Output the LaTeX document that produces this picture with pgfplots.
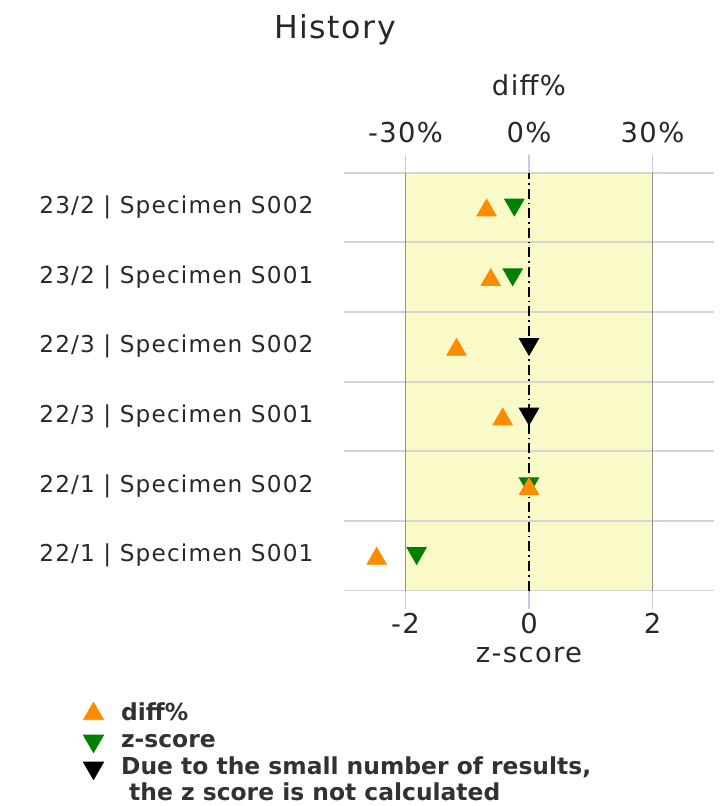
\documentclass[border=0pt]{standalone}
\usepackage{fontspec}
\setmainfont{DejaVu Sans}[LetterSpace=5]
\newfontfamily\legfont{DejaVu Sans}
\usepackage{pgfplots}
\pgfplotsset{compat=1.18}
\definecolor{myorange}{RGB}{255,140,0}
\definecolor{mygreen}{RGB}{0,128,0}
\definecolor{band}{RGB}{250,250,200}
\definecolor{bandedge}{RGB}{145,145,145}
\definecolor{gridc}{RGB}{212,212,212}
\definecolor{tickc}{RGB}{190,205,228}
\definecolor{txt}{RGB}{40,40,40}
\definecolor{legtxt}{RGB}{50,50,50}
\begin{document}
\begin{tikzpicture}
\path (0,0) rectangle (363pt,403pt);
\node[font=\fontsize{15.8}{18}\selectfont, text=txt] at (167.5pt,388pt) {History};
\begin{axis}[
  at={(171.875pt,107.65pt)}, anchor=south west,
  scale only axis, width=185.25pt, height=209pt,
  xmin=-3, xmax=3, ymin=-0.5, ymax=5.5,
  axis line style={draw=none},
  /pgf/number format/assume math mode=true,
  xtick={-2,0,2}, xtick pos=left, tick align=outside,
  major tick length=9pt,
  tick style={color=tickc, line width=0.7pt},
  x tick label style={font=\fontsize{13.7}{16}\selectfont, text=txt, yshift=1.5pt},
  xlabel={z-score},
  xlabel style={font=\fontsize{13.7}{16}\selectfont, text=txt, yshift=0pt},
  ytick=\empty,
  extra y ticks={0,1,2,3,4,5},
  extra y tick labels={22/1 | Specimen S001, 22/1 | Specimen S002, 22/3 | Specimen S001, 22/3 | Specimen S002, 23/2 | Specimen S001, 23/2 | Specimen S002},
  extra y tick style={major tick length=0pt, grid=none, tick style={draw=none},
    yticklabel style={font=\fontsize{11.6}{13}\selectfont, text=txt, xshift=-11.6pt}},
  legend style={at={(axis description cs:-0.7046,-0.2615)}, anchor=north west,
    draw=none, fill=none, inner sep=0pt,
    font=\legfont\bfseries\fontsize{11.7}{13.2}\selectfont, text=legtxt,
    nodes={inner sep=1pt, text height=9pt, text depth=2.5pt},
    row sep=0pt},
  legend cell align=left,
  legend image code/.code={\draw[#1] plot coordinates {(5pt,0pt)}; \path (0pt,0pt) (17.6pt,0pt);},
]
\addplot[fill=band, draw=none, forget plot] coordinates {(-2,-0.5) (-2,5.5) (2,5.5) (2,-0.5)} -- cycle;
% horizontal grid lines between the rows
\addplot[color=gridc, line width=1pt, forget plot] coordinates {(-3,-0.5) (3,-0.5)};
\addplot[color=gridc, line width=1pt, forget plot] coordinates {(-3,0.5) (3,0.5)};
\addplot[color=gridc, line width=1pt, forget plot] coordinates {(-3,1.5) (3,1.5)};
\addplot[color=gridc, line width=1pt, forget plot] coordinates {(-3,2.5) (3,2.5)};
\addplot[color=gridc, line width=1pt, forget plot] coordinates {(-3,3.5) (3,3.5)};
\addplot[color=gridc, line width=1pt, forget plot] coordinates {(-3,4.5) (3,4.5)};
\addplot[color=gridc, line width=1pt, forget plot] coordinates {(-3,5.5) (3,5.5)};
\addplot[color=bandedge, line width=0.7pt, forget plot] coordinates {(-2,-0.5) (-2,5.5)};
\addplot[color=bandedge, line width=0.7pt, forget plot] coordinates {(2,-0.5) (2,5.5)};
\addplot[black, line width=0.7pt, dash pattern=on 5pt off 2pt on 0.8pt off 2pt, forget plot] coordinates {(0,-0.5) (0,5.5)};
\addplot[only marks, mark=triangle*, mark size=5.6pt, color=mygreen, mark options={yshift=1.4pt, rotate=180}, forget plot]
  coordinates {(-1.82,0) (0,1) (-0.264,4) (-0.238,5)};
\addplot[only marks, mark=triangle*, mark size=5.6pt, color=black, mark options={yshift=1.4pt, rotate=180}, forget plot]
  coordinates {(0,2) (0,3)};
\addlegendimage{only marks, mark=triangle*, mark size=5.8pt, color=myorange}
\addlegendentry{diff\%}
\addlegendimage{only marks, mark=triangle*, mark size=5.8pt, color=mygreen, mark options={rotate=180}}
\addlegendentry{z-score}
\addlegendimage{only marks, mark=triangle*, mark size=5.8pt, color=black, mark options={rotate=180}}
\addlegendentry{\begin{tabular}[t]{@{}l@{}}Due to the small number of results,\\\ the z score is not calculated\end{tabular}}
\end{axis}
\begin{axis}[
  at={(171.875pt,107.65pt)}, anchor=south west,
  scale only axis, width=185.25pt, height=209pt,
  xmin=-45, xmax=45, ymin=-0.5, ymax=5.5,
  axis line style={draw=none},
  ytick=\empty,
  xtick={-30,0,30}, xticklabels={-30\%,0\%,30\%},
  xtick pos=right, xticklabel pos=right, tick align=outside,
  major tick length=9pt,
  tick style={color=tickc, line width=0.7pt},
  x tick label style={font=\fontsize{13.7}{16}\selectfont, text=txt, yshift=2.5pt},
  xlabel={diff\%},
  xlabel style={font=\fontsize{13.7}{16}\selectfont, text=txt, yshift=6pt},
]
\addplot[only marks, mark=triangle*, mark size=5.6pt, color=myorange, mark options={yshift=-1.4pt}]
  coordinates {(-37.0,0) (0,1) (-6.4,2) (-17.6,3) (-9.3,4) (-10.3,5)};
\end{axis}
\end{tikzpicture}
\end{document}
